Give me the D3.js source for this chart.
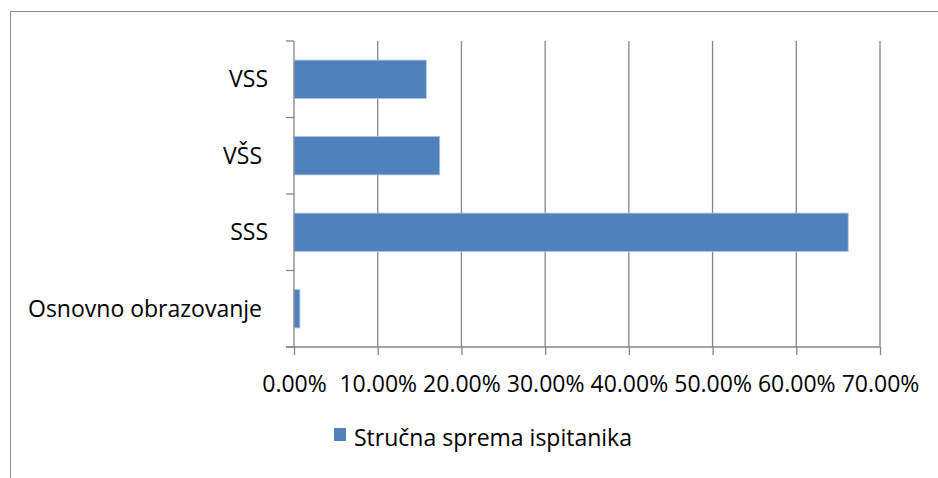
<!DOCTYPE html>
<html>
<head>
<meta charset="utf-8">
<style>
  body { margin: 0; background: #fff; }
  text { font-family: "Open Sans", sans-serif; font-size: 23px; fill: #000; white-space: pre; }
  .grid line, .axis line, .axis path { stroke: #868686; stroke-width: 1.3; }
</style>
</head>
<body>
<svg id="chart" width="938" height="478"></svg>
<script src="https://cdn.jsdelivr.net/npm/d3@7"></script>
<script>
// data, bottom to top as in the picture
let categories = ["Osnovno obrazovanje ", "SSS", "VŠS ", "VSS"]
let values = [0.007, 0.662, 0.174, 0.158]
let xTicks = [0, 0.1, 0.2, 0.3, 0.4, 0.5, 0.6, 0.7]
let seriesName = "Stručna sprema ispitanika"

let svg = d3.select("#chart")

// outer chart border (right and bottom edges run off the picture)
svg.append("rect")
   .attr("x", 10.5).attr("y", 11.5)
   .attr("width", 1000).attr("height", 1000)
   .attr("fill", "none")
   .attr("stroke", "#8b8b8b")

let plotLeft = 294, plotRight = 880, plotTop = 41, plotBottom = 347

let x = d3.scaleLinear().domain([0, 0.7]).range([plotLeft, plotRight])
let y = d3.scaleBand()
          .domain(categories.slice().reverse())
          .range([plotTop, plotBottom])
          .paddingInner(0.5)
          .paddingOuter(0.25)

// vertical gridlines
svg.append("g").attr("class", "grid")
   .selectAll("line")
   .data(xTicks.slice(1))
   .enter()
   .append("line")
     .attr("x1", d => x(d)).attr("x2", d => x(d))
     .attr("y1", plotTop).attr("y2", plotBottom)

// bars
svg.append("g")
   .selectAll("rect")
   .data(values)
   .enter()
   .append("rect")
     .attr("x", x(0))
     .attr("y", (d, i) => y(categories[i]))
     .attr("width", d => x(d) - x(0))
     .attr("height", y.bandwidth())
     .attr("fill", "#4f81bd")
     .attr("stroke", "#a7c0e0")
     .attr("stroke-width", 0.8)

// x axis
let xAxis = d3.axisBottom(x)
              .tickValues(xTicks)
              .tickFormat(d3.format(".2%"))
              .tickSize(8)
              .tickSizeOuter(0)
let gx = svg.append("g").attr("class", "axis")
            .attr("transform", `translate(0,${plotBottom})`)
            .call(xAxis)
gx.attr("font-size", null).attr("font-family", null)
gx.select(".domain").attr("d", `M${plotLeft - 8},0H${plotRight}`)
gx.selectAll("text")
  .attr("y", 45).attr("dy", null)
  .attr("fill", "#000")

// y axis: line plus ticks at the category boundaries
let gy = svg.append("g").attr("class", "axis")
gy.append("path").attr("d", `M${plotLeft},${plotTop}V${plotBottom}`)
let step = y.step()
gy.selectAll("line")
  .data(d3.range(categories.length + 1))
  .enter()
  .append("line")
    .attr("x1", plotLeft - 8).attr("x2", plotLeft)
    .attr("y1", i => plotTop + i * step).attr("y2", i => plotTop + i * step)

svg.append("g")
   .selectAll("text")
   .data(categories)
   .enter()
   .append("text")
     .attr("x", 268)
     .attr("y", d => y(d) + y.bandwidth() / 2 + 8)
     .attr("text-anchor", "end")
     .text(d => d)

// legend
svg.append("rect")
   .attr("x", 334).attr("y", 428)
   .attr("width", 12).attr("height", 13)
   .attr("fill", "#4f81bd")
svg.append("text")
   .attr("x", 354).attr("y", 446)
   .text(seriesName)
</script>
</body>
</html>
